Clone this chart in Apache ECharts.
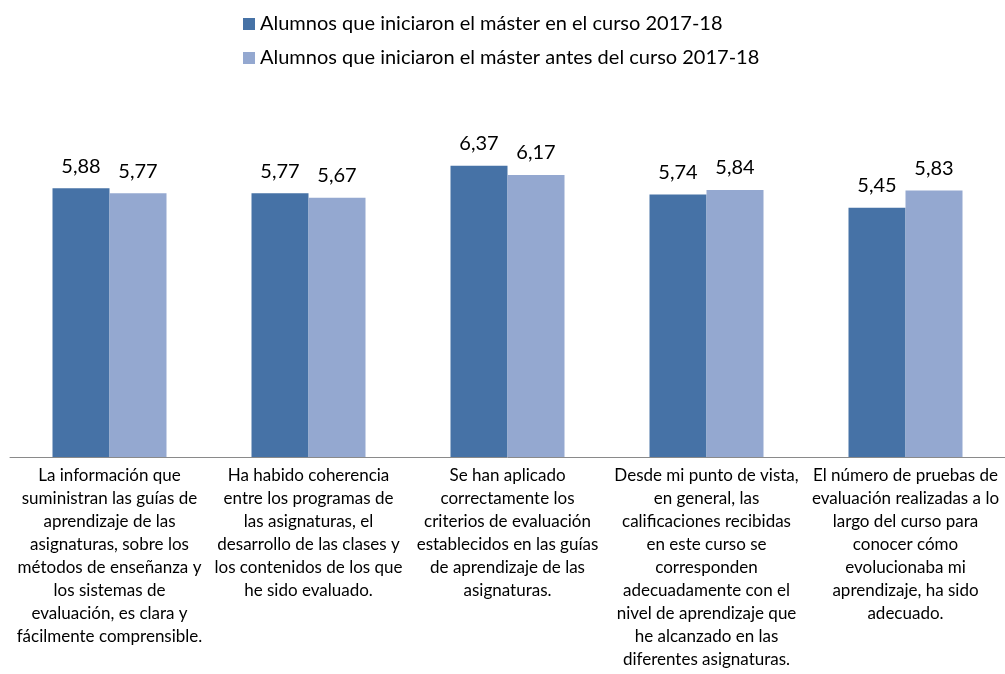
<!DOCTYPE html>
<html>
<head>
<meta charset="utf-8">
<script src="https://cdn.jsdelivr.net/npm/echarts@6/dist/echarts.min.js"></script>
<style>
  html, body { margin: 0; padding: 0; background: #fff; }
  #main { width: 1005px; height: 674px; }
</style>
</head>
<body>
<div id="main"></div>
<script>
// categorías (con los saltos de línea del original)
var categorias = [
  "La información que\nsuministran las guías de\naprendizaje de las\nasignaturas, sobre los\nmétodos de enseñanza y\nlos sistemas de\nevaluación, es clara y\nfácilmente comprensible.",
  "Ha habido coherencia\nentre los programas de\nlas asignaturas, el\ndesarrollo de las clases y\nlos contenidos de los que\nhe sido evaluado.",
  "Se han aplicado\ncorrectamente los\ncriterios de evaluación\nestablecidos en las guías\nde aprendizaje de las\nasignaturas.",
  "Desde mi punto de vista,\nen general, las\ncalificaciones recibidas\nen este curso se\ncorresponden\nadecuadamente con el\nnivel de aprendizaje que\nhe alcanzado en las\ndiferentes asignaturas.",
  "El número de pruebas de\nevaluación realizadas a lo\nlargo del curso para\nconocer cómo\nevolucionaba mi\naprendizaje, ha sido\nadecuado."
];
var nombresSeries = [
  "Alumnos que iniciaron el máster en el curso 2017-18",
  "Alumnos que iniciaron el máster antes del curso 2017-18"
];
var curso2017 = [5.88, 5.77, 6.37, 5.74, 5.45];
var antes2017 = [5.77, 5.67, 6.17, 5.84, 5.83];

var myChart = echarts.init(document.getElementById("main"));
var fuente = "Lato";

function etiqueta(p) {
  return p.value.toFixed(2).replace(".", ",");
}

var option = {
  animation: false,
  textStyle: { fontFamily: fuente },
  legend: {
    orient: "vertical",
    left: 238,
    top: 9,
    itemWidth: 12,
    itemHeight: 12,
    itemGap: 14,
    icon: "rect",
    textStyle: { fontSize: 20, color: "#000", fontFamily: fuente, padding: [0, 0, 0, 0] },
    data: nombresSeries
  },
  grid: {
    left: 10,
    right: 0,
    top: 137,
    bottom: 217
  },
  xAxis: {
    type: "category",
    data: categorias,
    axisLine: { lineStyle: { color: "#8a8a8a", width: 1 } },
    axisTick: { length: 6, lineStyle: { color: "#8a8a8a" } },
    axisLabel: {
      interval: 0,
      margin: 7,
      color: "#000",
      fontSize: 17,
      lineHeight: 23,
      fontFamily: fuente,
      align: "center"
    }
  },
  yAxis: {
    type: "value",
    min: 0,
    max: 7,
    show: false,
    splitLine: { show: false }
  },
  series: [
    {
      name: nombresSeries[0],
      type: "bar",
      data: curso2017,
      barWidth: 57,
      barGap: "0%",
      itemStyle: { color: "#4672a6" },
      label: {
        show: true,
        position: "top",
        distance: 12,
        formatter: etiqueta,
        color: "#000",
        fontSize: 20,
        fontFamily: fuente
      }
    },
    {
      name: nombresSeries[1],
      type: "bar",
      data: antes2017,
      barWidth: 57,
      barGap: "0%",
      itemStyle: { color: "#94a8d0" },
      label: {
        show: true,
        position: "top",
        distance: 12,
        formatter: etiqueta,
        color: "#000",
        fontSize: 20,
        fontFamily: fuente
      }
    }
  ]
};

myChart.setOption(option);
</script>
</body>
</html>
